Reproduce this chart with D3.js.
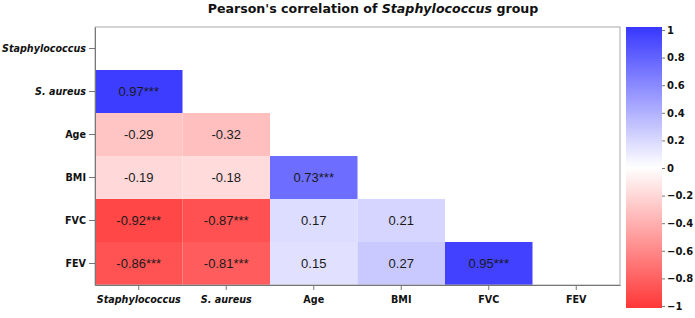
<!DOCTYPE html>
<html><head><meta charset="utf-8">
<script src="https://cdn.jsdelivr.net/npm/d3@7"></script>
<style>body{margin:0;background:#fff}</style>
</head><body><svg id="c" width="695" height="318"></svg>
<script>
const variables = ["Staphylococcus","S. aureus","Age","BMI","FVC","FEV"];
const italicVars = ["Staphylococcus","S. aureus"];
// lower-triangle correlations, row by row
const rowSAureus = [0.97];
const rowAge = [-0.29, -0.32];
const rowBMI = [-0.19, -0.18, 0.73];
const rowFVC = [-0.92, -0.87, 0.17, 0.21];
const rowFEV = [-0.86, -0.81, 0.15, 0.27, 0.95];
const rowSig = [["***"],["",""],["","","***"],["***","***","",""],["***","***","","","***"]];
const legendTicks = [1,0.8,0.6,0.4,0.2,0,-0.2,-0.4,-0.6,-0.8,-1];

const rows = [[], rowSAureus, rowAge, rowBMI, rowFVC, rowFEV];
const cells = [];
rows.forEach((r,i)=>r.forEach((v,j)=>cells.push({row:variables[i],col:variables[j],v:v,sig:rowSig[i-1][j]})));

const svg = d3.select("#c");
const L=95,R=620,T=27,B=285;
const x = d3.scaleBand().domain(variables).range([L,R]).padding(0);
const y = d3.scaleBand().domain(variables).range([T,B]).padding(0);
const color = d3.scaleLinear().domain([-1,0,1]).range(["rgb(255,55,55)","#ffffff","rgb(55,55,255)"]);

svg.append("g").selectAll("rect").data(cells).join("rect")
  .attr("x",d=>x(d.col)).attr("y",d=>y(d.row))
  .attr("width",x.bandwidth()).attr("height",y.bandwidth())
  .attr("fill",d=>color(d.v));
svg.append("g").selectAll("text").data(cells).join("text")
  .attr("x",d=>x(d.col)+x.bandwidth()/2).attr("y",d=>y(d.row)+y.bandwidth()/2)
  .attr("text-anchor","middle").attr("dominant-baseline","central")
  .style("font-family","Liberation Sans, Arial, sans-serif").style("font-size","13px").attr("fill","#1a1a1a")
  .text(d=>d.v.toFixed(2)+d.sig);

// border
svg.append("rect").attr("x",L).attr("y",T).attr("width",R-L).attr("height",B-T)
  .attr("fill","none").attr("stroke","#aaa").attr("stroke-width",1);

function styleAxis(g){
  g.select(".domain").attr("stroke","#777");
  g.selectAll(".tick line").attr("stroke","#777");
  g.selectAll(".tick text").style("font-family","DejaVu Sans, Verdana, sans-serif")
   .style("font-weight","bold").style("font-size","9.6px").attr("fill","#111")
   .style("font-style",d=>italicVars.includes(d)?"italic":"normal");
}
svg.append("g").attr("transform",`translate(${L},0)`)
  .call(d3.axisLeft(y).tickSize(6).tickPadding(3).tickSizeOuter(0)).call(styleAxis);
svg.append("g").attr("transform",`translate(0,${B})`)
  .call(d3.axisBottom(x).tickSize(5).tickPadding(6).tickSizeOuter(0)).call(styleAxis);

// title
const title = svg.append("text").attr("x",373).attr("y",13).attr("text-anchor","middle")
  .style("font-family","DejaVu Sans, Verdana, sans-serif").style("font-weight","bold").style("font-size","12.6px").attr("fill","#111");
title.append("tspan").text("Pearson's correlation of ");
title.append("tspan").style("font-style","italic").text("Staphylococcus");
title.append("tspan").text(" group");

// color bar
const ly = d3.scaleLinear().domain([1,-1]).range([30,306]);
const defs = svg.append("defs");
const grad = defs.append("linearGradient").attr("id","g").attr("x1",0).attr("y1",0).attr("x2",0).attr("y2",1);
legendTicks.forEach(t=>grad.append("stop").attr("offset",((1-t)/2)).attr("stop-color",color(t)));
svg.append("rect").attr("x",626).attr("y",27).attr("width",36).attr("height",281).attr("fill","url(#g)");
const lg = svg.append("g").attr("transform","translate(662,0)")
  .call(d3.axisRight(ly).tickValues(legendTicks).tickSize(3).tickPadding(2).tickFormat(d3.format("")));
lg.select(".domain").remove();
lg.selectAll(".tick line").attr("stroke","#777");
lg.selectAll(".tick text").style("font-family","DejaVu Sans, Verdana, sans-serif")
  .style("font-weight","bold").style("font-size","10px").attr("fill","#111");
</script></body></html>
